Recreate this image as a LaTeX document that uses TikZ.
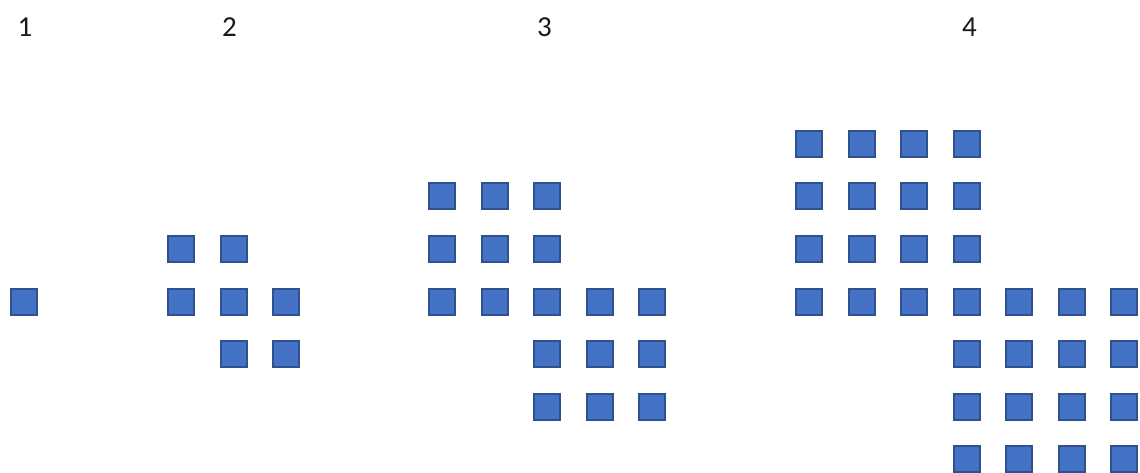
\documentclass[tikz,border=0pt]{standalone}
\usepackage{fontspec}
\setmainfont{Carlito}
\definecolor{sqfill}{HTML}{4472C4}
\definecolor{sqdraw}{HTML}{2F528F}
\begin{document}
\begin{tikzpicture}[x=1pt,y=-1pt,
  sq/.style={draw=sqdraw,fill=sqfill,line width=2pt,minimum size=26pt,inner sep=0pt},
  lbl/.style={font=\fontsize{29}{31}\selectfont,inner sep=0pt,text=black!90}]
\useasboundingbox (0,0) rectangle (1140,473);
% labels
\node[lbl] (l1) at (25,27.5) {1};
\node[lbl] (l2) at (229.5,27.5) {2};
\node[lbl] (l3) at (544.5,27.5) {3};
\node[lbl] (l4) at (969.5,27.5) {4};
% figure 1
\node[sq] (f1s1) at (23.5,301.5) {};
% figure 2
\foreach \c/\r [count=\i] in {0/-1,1/-1,0/0,1/0,2/0,1/1,2/1}
  \node[sq] (f2s\i) at ({181+52.5*\c},{301.5+52.5*\r}) {};
% figure 3
\foreach \r in {0,1,2}
  \foreach \c in {0,1,2}
    \node[sq] (f3a\c\r) at ({442+52.5*\c},{196.5+52.5*\r}) {};
\foreach \c in {3,4}
  \node[sq] (f3b\c) at ({442+52.5*\c},301.5) {};
\foreach \r in {3,4}
  \foreach \c in {2,3,4}
    \node[sq] (f3c\c\r) at ({442+52.5*\c},{196.5+52.5*\r}) {};
% figure 4
\foreach \r in {0,1,2,3}
  \foreach \c in {0,1,2,3}
    \node[sq] (f4a\c\r) at ({809+52.5*\c},{144+52.5*\r}) {};
\foreach \c in {4,5,6}
  \node[sq] (f4b\c) at ({809+52.5*\c},301.5) {};
\foreach \r in {4,5,6}
  \foreach \c in {3,4,5,6}
    \node[sq] (f4c\c\r) at ({809+52.5*\c},{144+52.5*\r}) {};
\end{tikzpicture}
\end{document}
